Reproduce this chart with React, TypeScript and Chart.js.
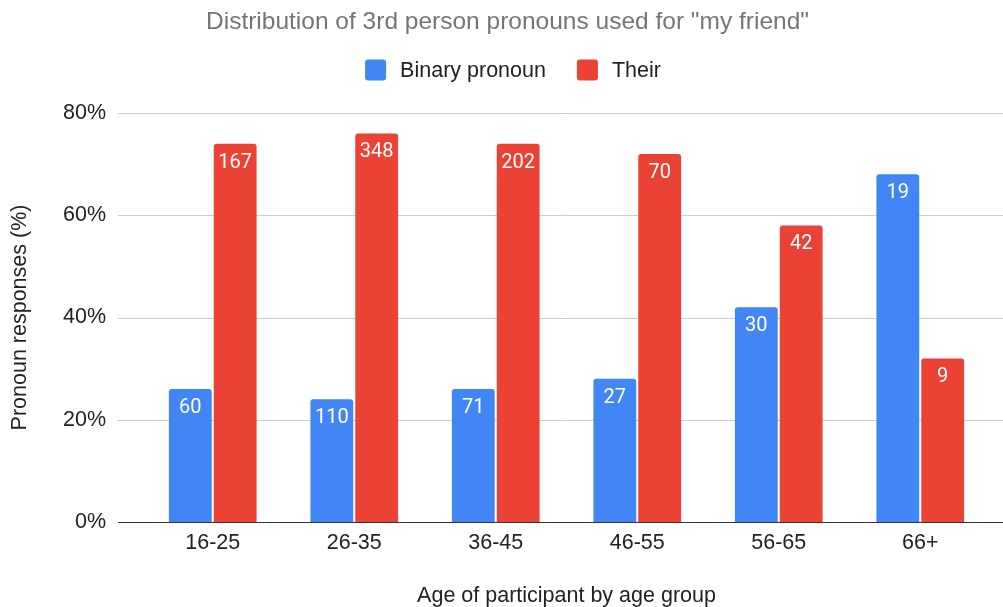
import React, { useEffect, useRef } from "react";
import { Chart, registerables } from "chart.js";

Chart.register(...registerables);

// Age groups, share of each pronoun (%) and the respondent counts behind them
const ageGroups = ["16-25", "26-35", "36-45", "46-55", "56-65", "66+"];
const binaryShare = [26, 24, 26, 28, 42, 68];
const theirShare = [74, 76, 74, 72, 58, 32];
const binaryCounts = [60, 110, 71, 27, 30, 19];
const theirCounts = [167, 348, 202, 70, 42, 9];

const yTicks = [0, 20, 40, 60, 80];

const TITLE = 'Distribution of 3rd person pronouns used for "my friend"';
const SANS = "'Liberation Sans', Arial, sans-serif";
const GRID_LEFT = 118;

// Title and legend drawn above the plot
const header = {
  id: "header",
  afterDraw(chart: any) {
    const { ctx } = chart;
    ctx.save();
    ctx.textBaseline = "middle";
    ctx.textAlign = "center";
    ctx.fillStyle = "#757575";
    ctx.font = `24.5px ${SANS}`;
    ctx.fillText(TITLE, 507.5, 22);

    ctx.font = `21.5px ${SANS}`;
    ctx.textAlign = "left";
    const box = 21;
    const toText = 14;
    const between = 31;
    const items = chart.data.datasets.map((ds: any) => ({
      label: ds.label,
      color: ds.backgroundColor,
      w: ctx.measureText(ds.label).width,
    }));
    const total =
      items.reduce((s: number, it: any) => s + box + toText + it.w, 0) +
      between * (items.length - 1);
    let x = 513 - total / 2;
    const cy = 70;
    items.forEach((it: any) => {
      ctx.fillStyle = it.color;
      ctx.beginPath();
      ctx.roundRect(x, cy - box / 2, box, box, 3);
      ctx.fill();
      x += box + toText;
      ctx.fillStyle = "#222222";
      ctx.fillText(it.label, x, cy + 1);
      x += it.w + between;
    });
    ctx.restore();
  },
};

// Gridlines and baseline run wider than the bar area, out to the canvas edge
const wideGrid = {
  id: "wideGrid",
  beforeDatasetsDraw(chart: any) {
    const { ctx, scales, width } = chart;
    ctx.save();
    ctx.lineWidth = 1;
    yTicks.forEach((v) => {
      const py = Math.round(scales.y.getPixelForValue(v)) + 0.5;
      ctx.strokeStyle = v === 0 ? "#333333" : "#cccccc";
      ctx.beginPath();
      ctx.moveTo(GRID_LEFT, py);
      ctx.lineTo(width, py);
      ctx.stroke();
    });
    ctx.restore();
  },
  afterDatasetsDraw(chart: any) {
    const { ctx, scales, width } = chart;
    const py = Math.round(scales.y.getPixelForValue(0)) + 0.5;
    ctx.save();
    ctx.strokeStyle = "#333333";
    ctx.lineWidth = 1;
    ctx.beginPath();
    ctx.moveTo(GRID_LEFT, py);
    ctx.lineTo(width, py);
    ctx.stroke();
    ctx.restore();
  },
};

// Writes each bar's respondent count just inside its top edge
const countLabels = {
  id: "countLabels",
  afterDatasetsDraw(chart: any) {
    const { ctx } = chart;
    ctx.save();
    ctx.fillStyle = "#ffffff";
    ctx.font = "20px Roboto, sans-serif";
    ctx.textAlign = "center";
    ctx.textBaseline = "middle";
    chart.data.datasets.forEach((ds: any, di: number) => {
      const meta = chart.getDatasetMeta(di);
      meta.data.forEach((bar: any, i: number) => {
        ctx.fillText(String(ds.counts[i]), bar.x, bar.y + 19);
      });
    });
    ctx.restore();
  },
};

export default function App() {
  const ref = useRef<HTMLCanvasElement>(null);

  useEffect(() => {
    document.body.style.margin = "0";
    const chart = new Chart(ref.current!, {
      type: "bar",
      data: {
        labels: ageGroups,
        datasets: [
          {
            label: "Binary pronoun",
            data: binaryShare,
            counts: binaryCounts,
            backgroundColor: "#4285f4",
            borderRadius: 3,
            borderSkipped: "bottom",
          } as any,
          {
            label: "Their",
            data: theirShare,
            counts: theirCounts,
            backgroundColor: "#ea4335",
            borderRadius: 3,
            borderSkipped: "bottom",
          } as any,
        ],
      },
      options: {
        animation: false,
        responsive: false,
        maintainAspectRatio: false,
        layout: { padding: { left: 0, right: 12, top: 113, bottom: 0 } },
        datasets: {
          bar: { categoryPercentage: 0.634, barPercentage: 0.955 },
        },
        plugins: {
          title: { display: false },
          legend: { display: false },
          tooltip: { enabled: false },
        },
        scales: {
          x: {
            grid: { display: false, drawTicks: false },
            border: { display: false },
            ticks: {
              color: "#222222",
              font: { family: SANS, size: 21.5 },
              padding: 8,
            },
            title: {
              display: true,
              text: "Age of participant by age group",
              color: "#222222",
              font: { family: SANS, size: 21.5 },
              padding: { top: 0, bottom: -2 },
            },
            afterFit: (s: any) => {
              s.height = 85;
            },
          },
          y: {
            min: 0,
            max: 80,
            afterBuildTicks: (s: any) => {
              s.ticks = yTicks.map((v) => ({ value: v }));
            },
            grid: { display: false, drawTicks: false },
            border: { display: false },
            ticks: {
              color: "#222222",
              font: { family: SANS, size: 21.5 },
              padding: 36,
              callback: (v: any) => v + "%",
            },
            title: {
              display: true,
              text: "Pronoun responses (%)",
              color: "#222222",
              font: { family: SANS, size: 21.5 },
              padding: { top: 7, bottom: 0 },
            },
            afterFit: (s: any) => {
              s.width = 142;
            },
          },
        },
      },
      plugins: [wideGrid, countLabels, header],
    });
    return () => chart.destroy();
  }, []);

  return (
    <div style={{ position: "absolute", left: 0, top: 0, width: 1003, height: 607 }}>
      <canvas ref={ref} width={1003} height={607} style={{ display: "block" }} />
    </div>
  );
}
